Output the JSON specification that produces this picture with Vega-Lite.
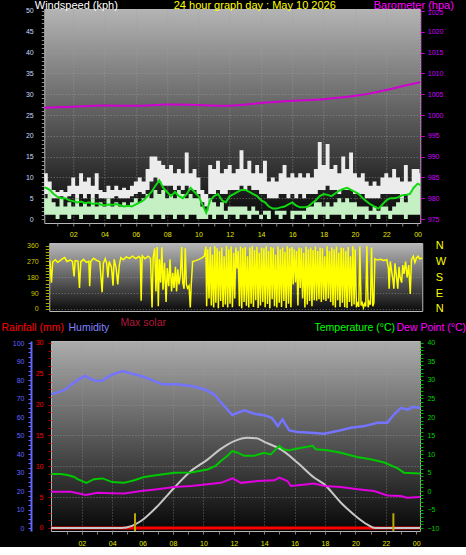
{
  "$schema": "https://vega.github.io/schema/vega-lite/v6.json",
  "background": "#000000",
  "padding": {"top": -2, "left": 0, "right": -7, "bottom": 0},
  "spacing": 1,
  "center": true,
  "config": {
    "font": "Liberation Sans",
    "view": {"stroke": null},
    "axis": {"labelFont": "Liberation Sans", "titleFont": "Liberation Sans", "labelFontSize": 7, "titleFontWeight": "normal", "titleFontSize": 11, "grid": false, "domain": false, "labelOverlap": false, "labelFlush": false}
  },
  "datasets": {
    "wind": [
      {"h":0.0,"g":11,"gl":6,"s":5,"sl":1,"a":7.5},
      {"h":0.25,"g":11,"gl":6,"s":5,"sl":1,"a":7.5},
      {"h":0.5,"g":9,"gl":5,"s":7,"sl":1,"a":7},
      {"h":0.75,"g":7,"gl":5,"s":4,"sl":1,"a":6},
      {"h":1.0,"g":6.5,"gl":5,"s":3,"sl":0,"a":5.3},
      {"h":1.25,"g":7,"gl":5.5,"s":5,"sl":1,"a":5},
      {"h":1.5,"g":6.5,"gl":5,"s":3,"sl":1,"a":5},
      {"h":1.75,"g":8,"gl":5.5,"s":4,"sl":0,"a":4.5},
      {"h":2.0,"g":10,"gl":6,"s":3,"sl":1,"a":4.3},
      {"h":2.25,"g":8,"gl":5,"s":5,"sl":1,"a":4},
      {"h":2.5,"g":11,"gl":6,"s":3,"sl":0,"a":4.2},
      {"h":2.75,"g":9,"gl":5,"s":4,"sl":1,"a":3.8},
      {"h":3.0,"g":10,"gl":6,"s":3,"sl":1,"a":4},
      {"h":3.25,"g":8,"gl":5,"s":5,"sl":1,"a":3.6},
      {"h":3.5,"g":11,"gl":6,"s":3,"sl":0,"a":3.8},
      {"h":3.75,"g":7,"gl":5,"s":4,"sl":1,"a":3.5},
      {"h":4.0,"g":6.5,"gl":5,"s":3,"sl":1,"a":3.3},
      {"h":4.25,"g":8,"gl":5,"s":5,"sl":0,"a":3.5},
      {"h":4.5,"g":7,"gl":5,"s":3,"sl":1,"a":3.4},
      {"h":4.75,"g":8,"gl":5.5,"s":4,"sl":1,"a":3.6},
      {"h":5.0,"g":7,"gl":5,"s":3,"sl":0,"a":3.3},
      {"h":5.25,"g":7.5,"gl":5,"s":4,"sl":1,"a":3},
      {"h":5.5,"g":7,"gl":5,"s":3,"sl":1,"a":3.2},
      {"h":5.75,"g":8,"gl":5.5,"s":4,"sl":1,"a":3},
      {"h":6.0,"g":9,"gl":6,"s":5,"sl":0,"a":3.5},
      {"h":6.25,"g":10,"gl":6.5,"s":4,"sl":1,"a":4},
      {"h":6.5,"g":9,"gl":6,"s":5,"sl":1,"a":4.5},
      {"h":6.75,"g":12,"gl":7,"s":6,"sl":1,"a":5.5},
      {"h":7.0,"g":15,"gl":9,"s":5,"sl":0,"a":6.5},
      {"h":7.25,"g":15,"gl":10,"s":7,"sl":1,"a":8},
      {"h":7.5,"g":14,"gl":9,"s":6,"sl":1,"a":9.3},
      {"h":7.75,"g":13,"gl":8,"s":7,"sl":0,"a":7.5},
      {"h":8.0,"g":12,"gl":8,"s":5,"sl":1,"a":6.5},
      {"h":8.25,"g":13,"gl":8,"s":6,"sl":1,"a":5.5},
      {"h":8.5,"g":11,"gl":7,"s":5,"sl":0,"a":6.5},
      {"h":8.75,"g":12,"gl":8,"s":7,"sl":1,"a":5.5},
      {"h":9.0,"g":11,"gl":7,"s":6,"sl":1,"a":5},
      {"h":9.25,"g":16,"gl":8,"s":5,"sl":0,"a":6},
      {"h":9.5,"g":11,"gl":7,"s":6,"sl":1,"a":7.5},
      {"h":9.75,"g":12,"gl":7,"s":5,"sl":1,"a":6.5},
      {"h":10.0,"g":10,"gl":6,"s":5,"sl":0,"a":5.5},
      {"h":10.25,"g":7,"gl":4,"s":3,"sl":0,"a":3.5},
      {"h":10.5,"g":6,"gl":3,"s":2,"sl":0,"a":1.5},
      {"h":10.75,"g":13,"gl":6,"s":5,"sl":1,"a":4.5},
      {"h":11.0,"g":12,"gl":6,"s":4,"sl":0,"a":5.5},
      {"h":11.25,"g":14,"gl":7,"s":3,"sl":1,"a":6},
      {"h":11.5,"g":11,"gl":6,"s":4,"sl":1,"a":4.5},
      {"h":11.75,"g":12,"gl":6,"s":2,"sl":0,"a":4},
      {"h":12.0,"g":13,"gl":7,"s":3,"sl":1,"a":5.5},
      {"h":12.25,"g":11,"gl":7,"s":3,"sl":1,"a":6},
      {"h":12.5,"g":12,"gl":7,"s":3,"sl":0,"a":6.5},
      {"h":12.75,"g":16.5,"gl":8,"s":3,"sl":1,"a":7},
      {"h":13.0,"g":12,"gl":7,"s":3,"sl":1,"a":7},
      {"h":13.25,"g":14,"gl":8,"s":2,"sl":0,"a":6.5},
      {"h":13.5,"g":11,"gl":7,"s":3,"sl":1,"a":6},
      {"h":13.75,"g":13,"gl":7,"s":2,"sl":1,"a":5.5},
      {"h":14.0,"g":11,"gl":6,"s":1,"sl":0,"a":4.5},
      {"h":14.25,"g":14,"gl":6,"s":2,"sl":1,"a":4},
      {"h":14.5,"g":9,"gl":5,"s":2,"sl":0,"a":3},
      {"h":14.75,"g":10,"gl":5,"s":1,"sl":1,"a":2.5},
      {"h":15.0,"g":9,"gl":5,"s":2,"sl":1,"a":2.5},
      {"h":15.25,"g":11,"gl":6,"s":2,"sl":0,"a":2.8},
      {"h":15.5,"g":13,"gl":6,"s":2,"sl":1,"a":3},
      {"h":15.75,"g":10,"gl":5,"s":1,"sl":1,"a":3.5},
      {"h":16.0,"g":11,"gl":6,"s":2,"sl":0,"a":4},
      {"h":16.25,"g":10,"gl":5,"s":2,"sl":1,"a":3.2},
      {"h":16.5,"g":11,"gl":6,"s":2,"sl":1,"a":2.8},
      {"h":16.75,"g":10,"gl":5,"s":2,"sl":0,"a":2.8},
      {"h":17.0,"g":11,"gl":6,"s":3,"sl":1,"a":3},
      {"h":17.25,"g":10,"gl":6,"s":3,"sl":1,"a":3.8},
      {"h":17.5,"g":12,"gl":6,"s":4,"sl":0,"a":4.5},
      {"h":17.75,"g":18.5,"gl":7,"s":4,"sl":1,"a":5.5},
      {"h":18.0,"g":13,"gl":7,"s":3,"sl":1,"a":6},
      {"h":18.25,"g":18,"gl":8,"s":4,"sl":0,"a":5.8},
      {"h":18.5,"g":12,"gl":7,"s":3,"sl":1,"a":5.5},
      {"h":18.75,"g":13,"gl":7,"s":4,"sl":1,"a":6.2},
      {"h":19.0,"g":11,"gl":6,"s":5,"sl":1,"a":6.8},
      {"h":19.25,"g":15,"gl":7,"s":4,"sl":0,"a":7.2},
      {"h":19.5,"g":12,"gl":7,"s":5,"sl":1,"a":7.5},
      {"h":19.75,"g":16,"gl":7,"s":4,"sl":1,"a":7},
      {"h":20.0,"g":11,"gl":6,"s":4,"sl":0,"a":6.5},
      {"h":20.25,"g":10,"gl":6,"s":3,"sl":1,"a":6},
      {"h":20.5,"g":11,"gl":6,"s":3,"sl":1,"a":5},
      {"h":20.75,"g":9,"gl":5,"s":3,"sl":0,"a":4.2},
      {"h":21.0,"g":8,"gl":5,"s":2,"sl":1,"a":3.5},
      {"h":21.25,"g":9,"gl":5,"s":3,"sl":1,"a":3},
      {"h":21.5,"g":8,"gl":5,"s":2,"sl":0,"a":2.5},
      {"h":21.75,"g":10,"gl":6,"s":3,"sl":1,"a":3.5},
      {"h":22.0,"g":11,"gl":6,"s":3,"sl":1,"a":4.5},
      {"h":22.25,"g":10,"gl":6,"s":2,"sl":0,"a":5},
      {"h":22.5,"g":12,"gl":6,"s":3,"sl":1,"a":5},
      {"h":22.75,"g":10,"gl":6,"s":4,"sl":1,"a":5.2},
      {"h":23.0,"g":9,"gl":5,"s":5,"sl":1,"a":5.7},
      {"h":23.25,"g":13,"gl":6,"s":4,"sl":0,"a":5.8},
      {"h":23.5,"g":9,"gl":5,"s":6,"sl":1,"a":6},
      {"h":23.75,"g":12,"gl":6,"s":8,"sl":1,"a":7.5},
      {"h":24.0,"g":12,"gl":7,"s":8,"sl":1,"a":8.5},
      {"h":24.25,"g":11,"gl":7,"s":7,"sl":1,"a":8}
    ],
    "baro": [
      {"h":0.0,"p":1001.7},{"h":2,"p":1002.0},{"h":4,"p":1002.3},{"h":6,"p":1002.2},{"h":8,"p":1002.5},{"h":10,"p":1002.4},{"h":12,"p":1002.2},{"h":13,"p":1002.5},{"h":14,"p":1002.9},{"h":16,"p":1003.4},{"h":18,"p":1003.8},{"h":20,"p":1004.6},{"h":21,"p":1005.2},{"h":22,"p":1006.0},{"h":23,"p":1006.9},{"h":24.3,"p":1008.0}
    ],
    "dir": [
      {"h":0.5,"d":275},{"h":0.6,"d":150},{"h":0.68,"d":268},{"h":0.85,"d":280},{"h":1.0,"d":265},{"h":1.15,"d":275},{"h":1.3,"d":285},{"h":1.45,"d":292},{"h":1.6,"d":270},{"h":1.8,"d":278},{"h":1.95,"d":270},{"h":2.05,"d":185},{"h":2.12,"d":275},{"h":2.3,"d":272},{"h":2.4,"d":120},{"h":2.48,"d":268},{"h":2.65,"d":282},{"h":2.85,"d":265},{"h":3.0,"d":272},{"h":3.05,"d":130},{"h":3.12,"d":270},{"h":3.3,"d":288},{"h":3.5,"d":276},{"h":3.7,"d":268},{"h":3.85,"d":95},{"h":3.93,"d":262},{"h":4.05,"d":286},{"h":4.15,"d":255},{"h":4.22,"d":180},{"h":4.3,"d":270},{"h":4.45,"d":238},{"h":4.55,"d":133},{"h":4.62,"d":282},{"h":4.75,"d":232},{"h":4.85,"d":140},{"h":4.95,"d":250},{"h":5.05,"d":292},{"h":5.2,"d":280},{"h":5.4,"d":296},{"h":5.6,"d":288},{"h":5.8,"d":300},{"h":6.0,"d":286},{"h":6.2,"d":298},{"h":6.3,"d":290},{"h":6.35,"d":47},{"h":6.42,"d":302},{"h":6.6,"d":285},{"h":6.8,"d":300},{"h":6.95,"d":288},{"h":7.05,"d":9},{"h":7.12,"d":292},{"h":7.22,"d":345},{"h":7.3,"d":100},{"h":7.38,"d":352},{"h":7.45,"d":15},{"h":7.52,"d":282},{"h":7.6,"d":150},{"h":7.68,"d":350},{"h":7.75,"d":110},{"h":7.85,"d":262},{"h":7.95,"d":40},{"h":8.02,"d":232},{"h":8.12,"d":130},{"h":8.2,"d":282},{"h":8.3,"d":100},{"h":8.38,"d":205},{"h":8.46,"d":120},{"h":8.55,"d":240},{"h":8.62,"d":100},{"h":8.7,"d":225},{"h":8.78,"d":140},{"h":8.86,"d":185},{"h":8.95,"d":352},{"h":9.02,"d":150},{"h":9.1,"d":115},{"h":9.18,"d":345},{"h":9.25,"d":140},{"h":9.33,"d":118},{"h":9.42,"d":132},{"h":9.5,"d":9},{"h":9.56,"d":135},{"h":9.65,"d":270},{"h":9.85,"d":275},{"h":10.05,"d":282},{"h":10.25,"d":290},{"h":10.4,"d":300},
      {"h":10.5,"d":355},{"h":10.55,"d":15},{"h":10.62,"d":340},{"h":10.7,"d":60},{"h":10.78,"d":352},{"h":10.85,"d":20},{"h":10.92,"d":310},{"h":11.0,"d":8},{"h":11.07,"d":356},{"h":11.14,"d":35},{"h":11.22,"d":345},{"h":11.3,"d":5},{"h":11.37,"d":330},{"h":11.45,"d":45},{"h":11.52,"d":350},{"h":11.6,"d":12},{"h":11.67,"d":300},{"h":11.75,"d":25},{"h":11.82,"d":358},{"h":11.9,"d":8},{"h":11.97,"d":340},{"h":12.05,"d":30},{"h":12.12,"d":355},{"h":12.2,"d":10},{"h":12.28,"d":320},{"h":12.35,"d":60},{"h":12.42,"d":350},{"h":12.5,"d":230},{"h":12.57,"d":330},{"h":12.65,"d":15},{"h":12.72,"d":355},{"h":12.8,"d":5},{"h":12.87,"d":345},{"h":12.95,"d":40},{"h":13.02,"d":352},{"h":13.1,"d":18},{"h":13.17,"d":300},{"h":13.25,"d":8},{"h":13.32,"d":350},{"h":13.4,"d":30},{"h":13.47,"d":357},{"h":13.55,"d":12},{"h":13.62,"d":335},{"h":13.7,"d":50},{"h":13.77,"d":354},{"h":13.85,"d":6},{"h":13.92,"d":320},{"h":14.0,"d":20},{"h":14.07,"d":350},{"h":14.15,"d":40},{"h":14.22,"d":345},{"h":14.3,"d":10},{"h":14.37,"d":356},{"h":14.45,"d":28},{"h":14.52,"d":330},{"h":14.6,"d":5},{"h":14.67,"d":352},{"h":14.75,"d":55},{"h":14.82,"d":348},{"h":14.9,"d":15},{"h":14.97,"d":310},{"h":15.05,"d":8},{"h":15.12,"d":355},{"h":15.2,"d":35},{"h":15.27,"d":340},{"h":15.35,"d":12},{"h":15.42,"d":350},{"h":15.5,"d":45},{"h":15.57,"d":325},{"h":15.65,"d":6},{"h":15.72,"d":356},{"h":15.8,"d":30},{"h":15.87,"d":345},{"h":15.95,"d":10},{"h":16.02,"d":352},{"h":16.1,"d":140},{"h":16.17,"d":340},{"h":16.25,"d":150},{"h":16.32,"d":330},{"h":16.4,"d":20},{"h":16.47,"d":350},{"h":16.55,"d":120},{"h":16.62,"d":345},{"h":16.7,"d":60},{"h":16.77,"d":320},{"h":16.85,"d":8},{"h":16.92,"d":355},{"h":17.0,"d":25},{"h":17.07,"d":340},{"h":17.15,"d":45},{"h":17.22,"d":350},{"h":17.3,"d":15},{"h":17.37,"d":335},{"h":17.45,"d":50},{"h":17.52,"d":355},{"h":17.6,"d":47},{"h":17.67,"d":330},{"h":17.75,"d":55},{"h":17.82,"d":350},{"h":17.9,"d":40},{"h":17.97,"d":345},{"h":18.05,"d":52},{"h":18.12,"d":300},{"h":18.2,"d":45},{"h":18.27,"d":356},{"h":18.35,"d":60},{"h":18.42,"d":330},{"h":18.5,"d":40},{"h":18.57,"d":350},{"h":18.65,"d":20},{"h":18.72,"d":340},{"h":18.8,"d":8},{"h":18.87,"d":355},{"h":18.95,"d":50},{"h":19.02,"d":320},{"h":19.1,"d":12},{"h":19.17,"d":350},{"h":19.25,"d":35},{"h":19.32,"d":345},{"h":19.4,"d":10},{"h":19.47,"d":330},{"h":19.55,"d":6},{"h":19.62,"d":352},{"h":19.7,"d":40},{"h":19.77,"d":300},{"h":19.85,"d":15},{"h":19.92,"d":356},{"h":20.0,"d":25},{"h":20.07,"d":340},{"h":20.15,"d":10},{"h":20.22,"d":40},{"h":20.3,"d":12},{"h":20.37,"d":355},{"h":20.45,"d":20},{"h":20.52,"d":35},{"h":20.6,"d":8},{"h":20.67,"d":30},{"h":20.75,"d":15},{"h":20.82,"d":358},{"h":20.9,"d":10},{"h":20.97,"d":40},{"h":21.05,"d":25},{"h":21.12,"d":350},{"h":21.2,"d":15},{"h":21.27,"d":35},
      {"h":21.33,"d":285},{"h":21.5,"d":278},{"h":21.7,"d":282},{"h":21.9,"d":276},{"h":22.1,"d":280},{"h":22.2,"d":230},{"h":22.25,"d":115},{"h":22.32,"d":270},{"h":22.4,"d":220},{"h":22.5,"d":160},{"h":22.55,"d":115},{"h":22.62,"d":260},{"h":22.7,"d":200},{"h":22.8,"d":115},{"h":22.88,"d":240},{"h":22.95,"d":180},{"h":23.05,"d":150},{"h":23.12,"d":250},{"h":23.2,"d":200},{"h":23.3,"d":270},{"h":23.4,"d":180},{"h":23.5,"d":250},{"h":23.6,"d":85},{"h":23.68,"d":280},{"h":23.8,"d":300},{"h":23.9,"d":265},{"h":24.0,"d":290},{"h":24.1,"d":300},{"h":24.2,"d":285},{"h":24.4,"d":290}
    ],
    "hum": [
      {"h":-0.3,"v":72},{"h":0.2,"v":72.8},{"h":0.5,"v":73.5},{"h":0.95,"v":75},{"h":1.3,"v":77.5},{"h":1.7,"v":79.8},{"h":2.2,"v":82.2},{"h":2.6,"v":80.5},{"h":2.93,"v":79.5},{"h":3.37,"v":79.8},{"h":3.7,"v":81.5},{"h":4.0,"v":83},{"h":4.4,"v":84},{"h":4.68,"v":84.9},{"h":5.2,"v":83.6},{"h":5.9,"v":82.2},{"h":6.5,"v":80.4},{"h":7.3,"v":77.7},{"h":8.3,"v":77.7},{"h":9.2,"v":76.8},{"h":10.05,"v":75},{"h":10.7,"v":72.3},{"h":11.26,"v":66.9},{"h":11.9,"v":61.1},{"h":12.25,"v":62.3},{"h":12.7,"v":63.6},{"h":13.34,"v":61.8},{"h":14.0,"v":61},{"h":14.5,"v":59.6},{"h":14.9,"v":55.1},{"h":15.2,"v":58.8},{"h":15.4,"v":56},{"h":15.65,"v":52.8},{"h":16.2,"v":51.9},{"h":17.07,"v":51.5},{"h":17.95,"v":51},{"h":18.8,"v":52.4},{"h":19.7,"v":54.2},{"h":20.6,"v":55.1},{"h":21.46,"v":56.9},{"h":22.1,"v":56.9},{"h":22.55,"v":61.5},{"h":23.0,"v":65},{"h":23.43,"v":64},{"h":23.76,"v":65.4},{"h":24.3,"v":65}
    ],
    "temp": [
      {"h":-0.3,"v":4.6},{"h":0.6,"v":4.6},{"h":1.05,"v":4.3},{"h":1.5,"v":3.8},{"h":1.72,"v":3.2},{"h":2.3,"v":2.2},{"h":2.8,"v":3.2},{"h":3.37,"v":3.4},{"h":4.0,"v":2.4},{"h":4.77,"v":2.2},{"h":5.45,"v":2.9},{"h":6.1,"v":3.8},{"h":7.0,"v":4.3},{"h":8.1,"v":4.95},{"h":9.2,"v":5.0},{"h":10.3,"v":5.9},{"h":10.8,"v":6.8},{"h":11.15,"v":8.1},{"h":11.6,"v":9.6},{"h":11.9,"v":10.8},{"h":12.25,"v":10.35},{"h":12.68,"v":9.5},{"h":13.34,"v":9.5},{"h":14.0,"v":10.35},{"h":14.43,"v":9.9},{"h":14.99,"v":12.2},{"h":15.3,"v":11.2},{"h":15.65,"v":11.0},{"h":16.2,"v":11.5},{"h":17.18,"v":12.2},{"h":17.4,"v":11.3},{"h":18.17,"v":11.0},{"h":19.05,"v":10.35},{"h":20.1,"v":9.2},{"h":21.0,"v":8.6},{"h":21.9,"v":7.7},{"h":22.78,"v":6.1},{"h":23.2,"v":4.95},{"h":24.3,"v":4.7}
    ],
    "dew": [
      {"h":-0.3,"v":-0.2},{"h":1.28,"v":-0.2},{"h":2.26,"v":-1.1},{"h":3.04,"v":-0.5},{"h":3.91,"v":-0.6},{"h":4.79,"v":-0.7},{"h":5.89,"v":0.0},{"h":6.98,"v":0.5},{"h":8.08,"v":1.1},{"h":9.18,"v":1.35},{"h":10.27,"v":1.8},{"h":11.15,"v":2.2},{"h":11.92,"v":3.4},{"h":12.47,"v":2.2},{"h":13.56,"v":2.7},{"h":14.66,"v":2.9},{"h":14.99,"v":3.6},{"h":15.53,"v":2.7},{"h":15.76,"v":1.35},{"h":16.85,"v":1.8},{"h":17.29,"v":2.0},{"h":17.95,"v":1.35},{"h":19.05,"v":1.1},{"h":20.15,"v":0.5},{"h":21.24,"v":0.0},{"h":22.1,"v":-1.2},{"h":23.0,"v":-1.35},{"h":23.4,"v":-1.8},{"h":24.3,"v":-1.6}
    ],
    "sol": [
      {"h":-0.3,"v":0},{"h":4.6,"v":0},{"h":5.3,"v":1.2},{"h":5.89,"v":3.8},{"h":7.0,"v":12},{"h":8.08,"v":21.8},{"h":9.18,"v":30.8},{"h":10.27,"v":37},{"h":11.1,"v":42.5},{"h":12.03,"v":47},{"h":12.9,"v":48.8},{"h":13.5,"v":48.5},{"h":14.0,"v":46.6},{"h":15.1,"v":42.5},{"h":16.2,"v":35.3},{"h":17.3,"v":27.2},{"h":17.95,"v":23.6},{"h":19.05,"v":13.7},{"h":20.15,"v":5.6},{"h":20.8,"v":1.8},{"h":21.3,"v":0},{"h":24.3,"v":0}
    ],
    "rain": [{"h":-0.3,"r":0},{"h":24.3,"r":0}],
    "mark": [{"h":5.5,"lo":-1.6,"hi":8},{"h":22.5,"lo":-1.6,"hi":8}]
  },
  "vconcat": [
    {
      "width": 376,
      "height": 214,
      "view": {"stroke": "#b8b8b8", "strokeWidth": 1, "fill": {"gradient": "linear", "x1": 0, "y1": 0, "x2": 0, "y2": 1, "stops": [{"offset": 0, "color": "#b4b4b4"}, {"offset": 1, "color": "#050505"}]}},
      "resolve": {"scale": {"y": "independent"}},
      "encoding": {
        "x": {"field": "h", "type": "quantitative", "scale": {"domain": [0.15, 24.17], "nice": false, "zero": false},
          "axis": {"values": [1,2,3,4,5,6,7,8,9,10,11,12,13,14,15,16,17,18,19,20,21,22,23,24],
            "format": "02d", "labelOverlap": false, "labelFlush": false, "labelFontSize": 7,
            "labelExpr": "datum.value == 24 ? '00' : (datum.value % 2 == 0 ? datum.label : '')",
            "labelColor": "#e6e600", "labelPadding": 4, "tickColor": "#888888", "tickSize": 3,
            "grid": true, "gridColor": "#a0a0a0", "gridDash": [1, 2],
            "gridOpacity": {"condition": {"test": "datum.value % 2 === 0 && datum.value < 24", "value": 0.7}, "value": 0},
            "title": "24 hour graph day : May 10 2026", "titleColor": "#ffff00", "titleFontSize": 11,
            "titleAlign": "left", "titleBaseline": "top", "titleX": 129, "titleY": -224}}
      },
      "layer": [
        {
          "data": {"name": "wind"},
          "mark": {"type": "area", "interpolate": "step", "color": "#ececec", "clip": true},
          "encoding": {
            "y": {"field": "gl", "type": "quantitative", "scale": {"domain": [-0.96, 50.48], "nice": false, "zero": false},
              "axis": {"values": [0,1,2,3,4,5,6,7,8,9,10,11,12,13,14,15,16,17,18,19,20,21,22,23,24,25,26,27,28,29,30,31,32,33,34,35,36,37,38,39,40,41,42,43,44,45,46,47,48,49,50],
                "labelExpr": "datum.value % 5 === 0 ? datum.label : ''",
                "labelColor": "#c8d8ff", "tickColor": "#909090", "tickSize": 3, "labelPadding": 8,
                "grid": true, "gridColor": "#a0a0a0", "gridDash": [1, 2],
                "gridOpacity": {"condition": {"test": "datum.value % 5 === 0 && datum.value > 0 && datum.value < 50", "value": 0.6}, "value": 0},
                "title": "Windspeed (kph)", "titleColor": "#ffffff", "titleAngle": 0, "titleAlign": "left", "titleBaseline": "top", "titleX": -10, "titleY": -10}},
            "y2": {"field": "g"}
          }
        },
        {
          "data": {"name": "wind"},
          "mark": {"type": "area", "interpolate": "step", "color": "#c4f0c4", "clip": true},
          "encoding": {
            "y": {"field": "sl", "type": "quantitative", "scale": {"domain": [-0.96, 50.48], "nice": false, "zero": false}, "axis": null},
            "y2": {"field": "s"}
          }
        },
        {
          "data": {"name": "wind"},
          "mark": {"type": "line", "color": "#10d810", "strokeWidth": 2, "clip": true},
          "encoding": {
            "y": {"field": "a", "type": "quantitative", "scale": {"domain": [-0.96, 50.48], "nice": false, "zero": false}, "axis": null}
          }
        },
        {
          "data": {"name": "baro"},
          "mark": {"type": "line", "color": "#d000d0", "strokeWidth": 2, "clip": true, "interpolate": "monotone"},
          "encoding": {
            "y": {"field": "p", "type": "quantitative", "scale": {"domain": [974.04, 1025.48], "nice": false, "zero": false},
              "axis": {"orient": "right", "values": [975,980,985,990,995,1000,1005,1010,1015,1020,1025], "format": "d",
                "labelColor": "#cc00ff", "tickColor": "#cc00cc", "tickSize": 4, "labelPadding": 3, "minExtent": 52,
                "labelOffset": {"condition": {"test": "datum.value === 1025", "value": 2}, "value": 0},
                "domain": true, "domainColor": "#cc00cc", "domainDash": [1, 2],
                "title": "Barometer (hpa)", "titleColor": "#ff00ff", "titleAngle": 0, "titleAlign": "left", "titleBaseline": "top", "titleX": -47, "titleY": -10}}
          }
        }
      ]
    },
    {
      "width": 373,
      "height": 68,
      "view": {"stroke": "#b8b8b8", "strokeWidth": 1, "fill": {"gradient": "linear", "x1": 0, "y1": 0, "x2": 0, "y2": 1, "stops": [{"offset": 0, "color": "#b8b8b8"}, {"offset": 1, "color": "#0a0a0a"}]}},
      "resolve": {"scale": {"y": "independent"}},
      "data": {"name": "dir"},
      "encoding": {
        "x": {"field": "h", "type": "quantitative", "scale": {"domain": [0.46, 24.37], "nice": false, "zero": false},
          "axis": {"labels": false, "ticks": false, "title": null, "values": [2,4,6,8,10,12,14,16,18,20,22]}}
      },
      "layer": [
        {
          "mark": {"type": "line", "color": "#ffff00", "strokeWidth": 1.5, "clip": true},
          "encoding": {
            "y": {"field": "d", "type": "quantitative", "scale": {"domain": [-11.4, 375], "nice": false, "zero": false},
              "axis": {"values": [0,18,36,54,72,90,108,126,144,162,180,198,216,234,252,270,288,306,324,342,360],
                "labelExpr": "datum.value % 90 === 0 ? datum.label : ''",
                "labelColor": "#c8c800", "tickColor": "#a8a800", "tickSize": 4, "labelPadding": 7,
                "grid": true, "gridColor": "#a0a0a0", "gridDash": [1, 2],
                "gridOpacity": {"condition": {"test": "datum.value % 90 === 0", "value": 0.6}, "value": 0},
                "title": null}}
          }
        },
        {
          "mark": {"type": "line", "opacity": 0},
          "encoding": {
            "y": {"field": "d", "type": "quantitative", "scale": {"domain": [-11.4, 375], "nice": false, "zero": false},
              "axis": {"orient": "right", "values": [0, 90, 180, 270, 360], "minExtent": 45,
                "labelExpr": "datum.value === 270 ? 'W' : (datum.value === 180 ? 'S' : (datum.value === 90 ? 'E' : 'N'))",
                "labelColor": "#ffff00", "labelFontSize": 11, "ticks": false, "labelPadding": 13, "title": null}}
          }
        }
      ]
    },
    {
      "width": 369,
      "height": 190,
      "view": {"stroke": "#b8b8b8", "strokeWidth": 1, "fill": {"gradient": "linear", "x1": 0, "y1": 0, "x2": 0, "y2": 1, "stops": [{"offset": 0, "color": "#acacac"}, {"offset": 1, "color": "#060606"}]}},
      "resolve": {"scale": {"y": "independent"}},
      "encoding": {
        "x": {"field": "h", "type": "quantitative", "scale": {"domain": [-0.03, 24.25], "nice": false, "zero": false},
          "axis": {"values": [1,2,3,4,5,6,7,8,9,10,11,12,13,14,15,16,17,18,19,20,21,22,23,24],
            "format": "02d", "labelOverlap": false, "labelFlush": false, "labelFontSize": 7,
            "labelExpr": "datum.value == 24 ? '00' : (datum.value % 2 == 0 ? datum.label : '')",
            "labelColor": "#e6e600", "labelPadding": 5, "tickColor": "#888888", "tickSize": 3,
            "grid": true, "gridColor": "#a0a0a0", "gridDash": [1, 2],
            "gridOpacity": {"condition": {"test": "datum.value % 2 === 0 && datum.value < 24", "value": 0.6}, "value": 0},
            "title": "Max solar", "titleColor": "#b01838", "titleFontSize": 10.5,
            "titleAlign": "left", "titleBaseline": "alphabetic", "titleX": 69, "titleY": -206}}
      },
      "layer": [
        {
          "data": {"name": "rain"},
          "mark": {"type": "line", "color": "#ff0000", "strokeWidth": 3, "clip": true},
          "encoding": {
            "y": {"field": "r", "type": "quantitative", "scale": {"domain": [-0.49, 30.32], "nice": false, "zero": false},
              "axis": {"orient": "left", "values": [0,1.25,2.5,3.75,5,6.25,7.5,8.75,10,11.25,12.5,13.75,15,16.25,17.5,18.75,20,21.25,22.5,23.75,25,26.25,27.5,28.75,30],
                "labelExpr": "datum.value % 5 === 0 ? datum.label : ''",
                "labelColor": "#ff0000", "tickColor": "#b00000", "tickSize": 3, "labelPadding": 5,
                "grid": true, "gridColor": "#a0a0a0", "gridDash": [1, 2],
                "gridOpacity": {"condition": {"test": "datum.value % 5 === 0 && datum.value > 0 && datum.value < 30", "value": 0.6}, "value": 0},
                "title": "Rainfall (mm)", "titleColor": "#ff0000", "titleFontSize": 10.5, "titleAngle": 0, "titleAlign": "left", "titleBaseline": "alphabetic", "titleX": -50, "titleY": -11}}
          }
        },
        {
          "data": {"name": "sol"},
          "mark": {"type": "line", "color": "#c8c8c8", "strokeWidth": 2, "interpolate": "monotone", "clip": true},
          "encoding": {
            "y": {"field": "v", "type": "quantitative", "scale": {"domain": [-1.6, 101.1], "nice": false, "zero": false}, "axis": null}
          }
        },
        {
          "data": {"name": "mark"},
          "mark": {"type": "rule", "color": "#b8a800", "strokeWidth": 2},
          "encoding": {
            "y": {"field": "lo", "type": "quantitative", "scale": {"domain": [-1.6, 101.1], "nice": false, "zero": false}, "axis": null},
            "y2": {"field": "hi"}
          }
        },
        {
          "data": {"name": "hum"},
          "mark": {"type": "line", "color": "#7474ff", "strokeWidth": 2.5, "clip": true},
          "encoding": {
            "y": {"field": "v", "type": "quantitative", "scale": {"domain": [-1.6, 101.1], "nice": false, "zero": false},
              "axis": {"orient": "left", "offset": 20, "values": [0,2.5,5,7.5,10,12.5,15,17.5,20,22.5,25,27.5,30,32.5,35,37.5,40,42.5,45,47.5,50,52.5,55,57.5,60,62.5,65,67.5,70,72.5,75,77.5,80,82.5,85,87.5,90,92.5,95,97.5,100],
                "labelExpr": "datum.value % 10 === 0 ? datum.label : ''",
                "labelColor": "#6464ff", "tickColor": "#6464ff", "tickSize": 3, "labelPadding": 4,
                "domain": true, "domainColor": "#6464ff", "domainWidth": 2,
                "title": "Humidity", "titleColor": "#8080ff", "titleFontSize": 10.5, "titleAngle": 0, "titleAlign": "left", "titleBaseline": "alphabetic", "titleX": 37, "titleY": -11}}
          }
        },
        {
          "data": {"name": "temp"},
          "mark": {"type": "line", "color": "#00c800", "strokeWidth": 2, "clip": true},
          "encoding": {
            "y": {"field": "v", "type": "quantitative", "scale": {"domain": [-10.81, 40.54], "nice": false, "zero": false},
              "axis": {"orient": "right", "minExtent": 45, "values": [-10,-9,-8,-7,-6,-5,-4,-3,-2,-1,0,1,2,3,4,5,6,7,8,9,10,11,12,13,14,15,16,17,18,19,20,21,22,23,24,25,26,27,28,29,30,31,32,33,34,35,36,37,38,39,40],
                "labelExpr": "datum.value % 5 === 0 ? datum.label : ''",
                "labelColor": "#00d000", "tickColor": "#00b000", "tickSize": 3, "labelPadding": 4,
                "domain": true, "domainColor": "#00a000", "domainDash": [1, 2],
                "title": "Temperature (°C)", "titleColor": "#00ff00", "titleFontSize": 10.5, "titleAngle": 0, "titleAlign": "left", "titleBaseline": "alphabetic", "titleX": -106, "titleY": -11}}
          }
        },
        {
          "data": {"name": "dew"},
          "mark": {"type": "line", "color": "#e000e0", "strokeWidth": 2, "clip": true},
          "encoding": {
            "y": {"field": "v", "type": "quantitative", "scale": {"domain": [-10.81, 40.54], "nice": false, "zero": false},
              "axis": {"orient": "right", "labels": false, "ticks": false, "domain": false,
                "title": "Dew Point (°C)", "titleColor": "#ff00ff", "titleFontSize": 10.5, "titleAngle": 0, "titleAlign": "left", "titleBaseline": "alphabetic", "titleX": -24, "titleY": -11}}
          }
        }
      ]
    }
  ]
}
